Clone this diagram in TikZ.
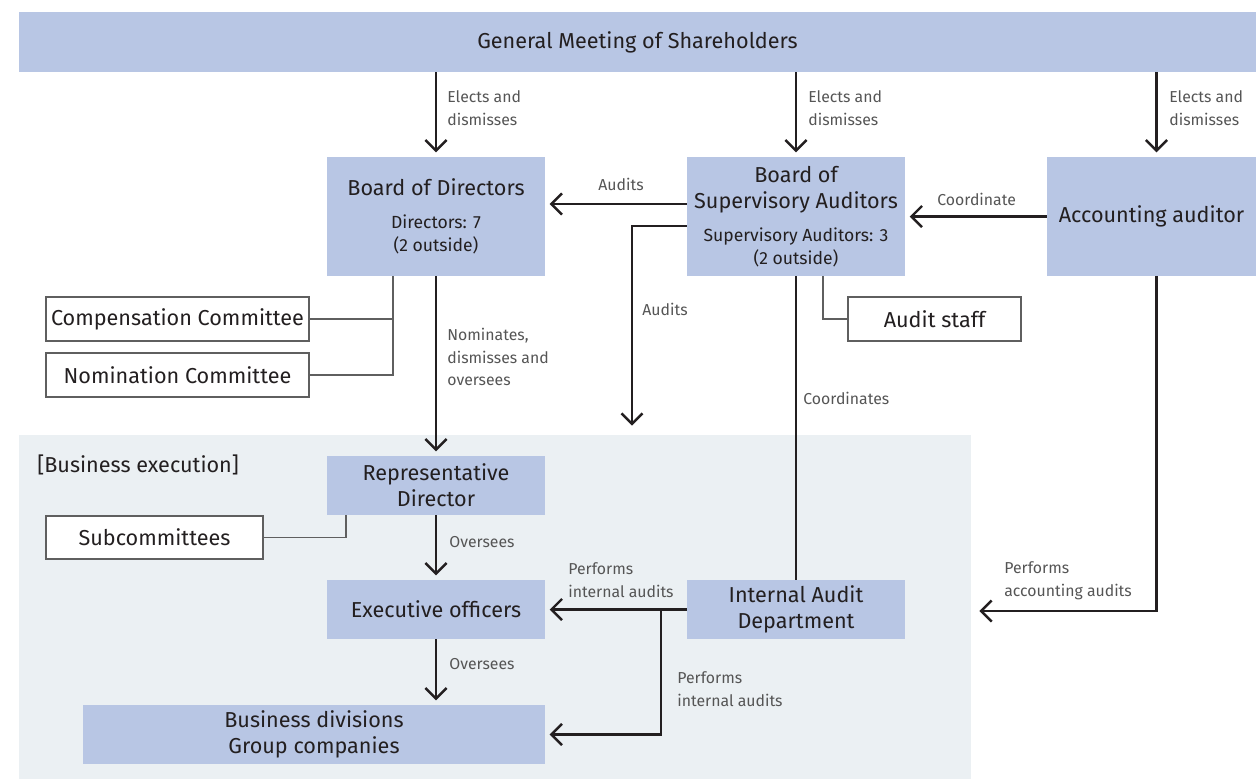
\documentclass[tikz,border=0pt]{standalone}
\usepackage{fontspec}
\setmainfont{Fira Sans}
\usetikzlibrary{arrows.meta}
\definecolor{boxblue}{RGB}{184,198,228}
\definecolor{execbg}{RGB}{235,240,243}
\definecolor{inkdark}{RGB}{35,31,32}
\definecolor{labelgray}{RGB}{85,85,85}
\definecolor{framegray}{RGB}{95,95,95}
\newcommand{\mainsz}{\fontsize{12.3}{14.8}\selectfont}
\newcommand{\subsz}{\fontsize{10}{12}\selectfont}
\begin{document}
\begin{tikzpicture}[x=0.02cm, y=-0.02cm,
    bluebox/.style={fill=boxblue, text=inkdark, align=center, inner sep=0pt,
        minimum width=4.36cm, minimum height=2.38cm, font=\mainsz},
    whitebox/.style={draw=framegray, line width=0.7pt, fill=white, text=inkdark,
        inner sep=0pt, minimum height=0.88cm, font=\mainsz},
    arr/.style={draw=inkdark, line width=1.4pt, shorten >=2.5pt,
        -{Straight Barb[length=6pt,width=12pt]}},
    link/.style={draw=framegray, line width=0.7pt},
    lbl/.style={anchor=west, align=left, text=labelgray, inner sep=0pt,
        font=\fontsize{9}{13}\selectfont}]
    \useasboundingbox (0,0) rectangle (1256,779);

    % Business execution area
    \fill[execbg] (19,435) rectangle (971,779);
    \node[anchor=west, text=inkdark, inner sep=0pt, font=\mainsz] (bizlabel) at (37,465) {[Business execution]};

    % Top level
    \node[bluebox, minimum width=24.74cm, minimum height=1.2cm] (gm) at (637.5,42) {General Meeting of Shareholders};

    % Boards and auditor
    \node[bluebox] (bod) at (436,216.5) {Board of Directors\\[4pt]\subsz Directors: 7\\[-1.8pt]\subsz (2 outside)};
    \node[bluebox] (bsa) at (796,216.5) {Board of\\Supervisory Auditors\\[4pt]\subsz Supervisory Auditors: 3\\[-1.8pt]\subsz (2 outside)};
    \node[bluebox, minimum width=4.18cm] (acc) at (1151.5,216.5) {Accounting auditor};

    % Committees and staff
    \node[whitebox, minimum width=5.26cm] (comp) at (177.5,319) {Compensation Committee};
    \node[whitebox, minimum width=5.26cm] (nom) at (177.5,375) {Nomination Committee};
    \node[whitebox, minimum width=3.46cm] (staff) at (934.5,319) {Audit staff};
    \node[whitebox, minimum width=4.34cm, minimum height=0.86cm] (sub) at (154.5,537.5) {Subcommittees};

    % Execution side
    \node[bluebox, minimum height=1.18cm] (rep) at (436,485.5) {Representative\\Director};
    \node[bluebox, minimum height=1.18cm] (exec) at (436,609.5) {Executive officers};
    \node[bluebox, minimum width=9.24cm, minimum height=1.18cm] (biz) at (314,734.5) {Business divisions\\Group companies};
    \node[bluebox, minimum height=1.18cm] (iad) at (796,609.5) {Internal Audit\\Department};

    % Free ends
    \coordinate (auditend) at (632,430);
    \coordinate (iadsplit) at (661,611);
    \coordinate (accend) at (975,611);
    \coordinate (bodtap) at ([xshift=-0.86cm]bod.south);

    % Elections
    \draw[arr] (gm.south -| bod) -- (bod.north);
    \draw[arr] (gm.south -| bsa) -- (bsa.north);
    \draw[arr] ([xshift=0.1cm]gm.south -| acc) -- ([xshift=0.1cm]acc.north);
    \node[lbl] (el1) at (447,108.5) {Elects and\\dismisses};
    \node[lbl] (el2) at (808,108.5) {Elects and\\dismisses};
    \node[lbl] (el3) at (1169,108.5) {Elects and\\dismisses};

    % Audits and coordination
    \draw[arr] ([yshift=0.25cm]bsa.west) -- ([yshift=0.25cm]bod.east);
    \node[lbl] (aud1) at (598,184) {Audits};
    \draw[arr] (acc.west) -- (bsa.east);
    \node[lbl] (coord1) at (937,199) {Coordinate};
    \draw[arr] ([yshift=-0.19cm]bsa.west) -| (auditend);
    \node[lbl] (aud2) at (642,309) {Audits};
    \draw[line width=1.4pt, inkdark] (bsa.south) -- (iad.north);
    \node[lbl] (coord2) at (803,398) {Coordinates};

    % Committee links
    \draw[link] (bodtap) |- (nom.east);
    \draw[link] (comp.east) -- (comp.east -| bodtap);
    \draw[link] ([xshift=0.54cm]bsa.south) |- (staff.west);
    \draw[link] ([xshift=-1.8cm]rep.south) |- (sub.east);

    % Oversight chain
    \draw[arr] (bod.south) -- (rep.north);
    \node[lbl] (nomi) at (447,357) {Nominates,\\dismisses and\\oversees};
    \draw[arr] (rep.south) -- (exec.north);
    \node[lbl] (ov1) at (449,542) {Oversees};
    \draw[arr] (exec.south) -- (biz.north -| exec);
    \node[lbl] (ov2) at (449,664) {Oversees};

    % Internal and accounting audits
    \draw[arr] (iad.west) -- (exec.east);
    \node[lbl] (pia1) at (568,580.5) {Performs\\internal audits};
    \draw[arr] (iadsplit) |- (biz.east);
    \node[lbl] (pia2) at (677,689.5) {Performs\\internal audits};
    \draw[arr] ([xshift=0.1cm]acc.south) |- (accend);
    \node[lbl] (paa) at (1004,580.5) {Performs\\accounting audits};
\end{tikzpicture}
\end{document}
